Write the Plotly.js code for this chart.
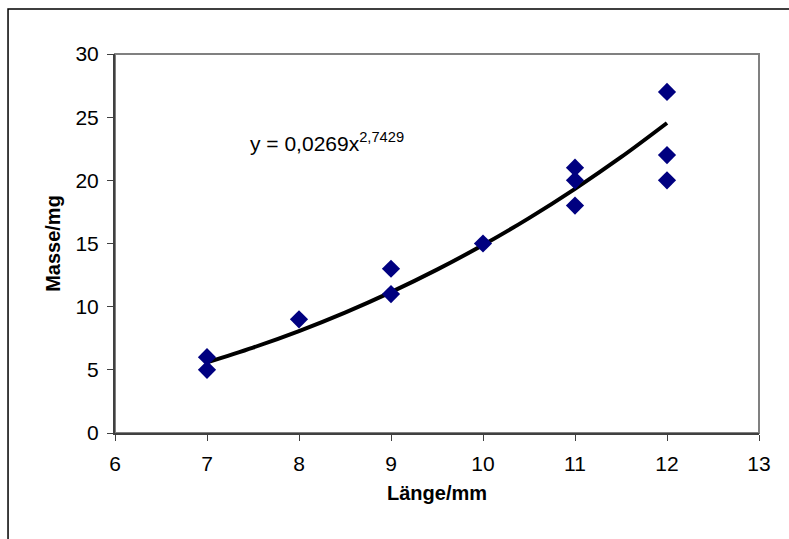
<!DOCTYPE html>
<html>
<head>
<meta charset="utf-8">
<script src="https://cdn.plot.ly/plotly-3.0.1.min.js"></script>
<style>html,body{margin:0;padding:0;background:#fff;}#chart{width:789px;height:539px;}</style>
</head>
<body>
<div id="chart"></div>
<script>
// Measured points
var laenge = [7, 7, 8, 9, 9, 10, 11, 11, 11, 12, 12, 12];
var masse  = [5, 6, 9, 11, 13, 15, 18, 20, 21, 20, 22, 27];
// Power trendline (y = 0,0269x^2,7429)
var trendX = [7, 7.5, 8, 8.5, 9, 9.5, 10, 10.5, 11, 11.5, 12];
var trendY = [5.59, 6.76, 8.07, 9.53, 11.15, 12.93, 14.88, 17.01, 19.33, 21.83, 24.54];
var xTicks = [6, 7, 8, 9, 10, 11, 12, 13];
var yTicks = [0, 5, 10, 15, 20, 25, 30];
var equationText = 'y = 0,0269x<sup>2,7429</sup>';

var traces = [
  {x: trendX, y: trendY, mode: 'lines', type: 'scatter',
   line: {color: '#000000', width: 4, shape: 'spline'}, hoverinfo: 'skip'},
  {x: laenge, y: masse, mode: 'markers', type: 'scatter',
   marker: {symbol: 'diamond', size: 14, color: '#000080'}}
];

var layout = {
  width: 789, height: 539,
  margin: {l: 115, r: 30, t: 54, b: 106},
  paper_bgcolor: '#ffffff', plot_bgcolor: '#ffffff',
  showlegend: false,
  font: {family: 'Arial, Liberation Sans, sans-serif', color: '#000000', size: 21},
  xaxis: {
    range: [6, 13], tickvals: xTicks, ticktext: xTicks.map(String),
    showgrid: false, zeroline: false,
    showline: true, linecolor: '#404040', linewidth: 2,
    ticks: 'outside', ticklen: 6, tickcolor: '#404040', tickwidth: 1,
    tickfont: {size: 21}, ticklabelstandoff: 5,
    title: {text: '<b>Länge/mm</b>', font: {size: 20}, standoff: 12}
  },
  yaxis: {
    range: [0, 30], tickvals: yTicks, ticktext: yTicks.map(String),
    showgrid: false, zeroline: false,
    showline: true, linecolor: '#404040', linewidth: 2,
    ticks: 'outside', ticklen: 6, tickcolor: '#404040', tickwidth: 1,
    tickfont: {size: 21}, ticklabelstandoff: 4,
    title: {text: '<b>Masse/mg</b>', font: {size: 20}, standoff: 9}
  },
  shapes: [
    {type: 'rect', xref: 'paper', yref: 'paper', x0: 0, x1: 1, y0: 0, y1: 1,
     line: {color: '#808080', width: 2}, layer: 'below'},
    {type: 'rect', xref: 'paper', yref: 'paper', x0: -0.1661, x1: 1.08, y0: -0.32, y1: 1.1187,
     line: {color: '#000000', width: 1.5}, layer: 'below'}
  ],
  annotations: [
    {x: 7.45, y: 23.0, xref: 'x', yref: 'y', xanchor: 'left', yanchor: 'middle',
     text: equationText, showarrow: false, font: {size: 21, color: '#000000'}}
  ]
};

Plotly.newPlot('chart', traces, layout, {displayModeBar: false, staticPlot: true});
</script>
</body>
</html>
